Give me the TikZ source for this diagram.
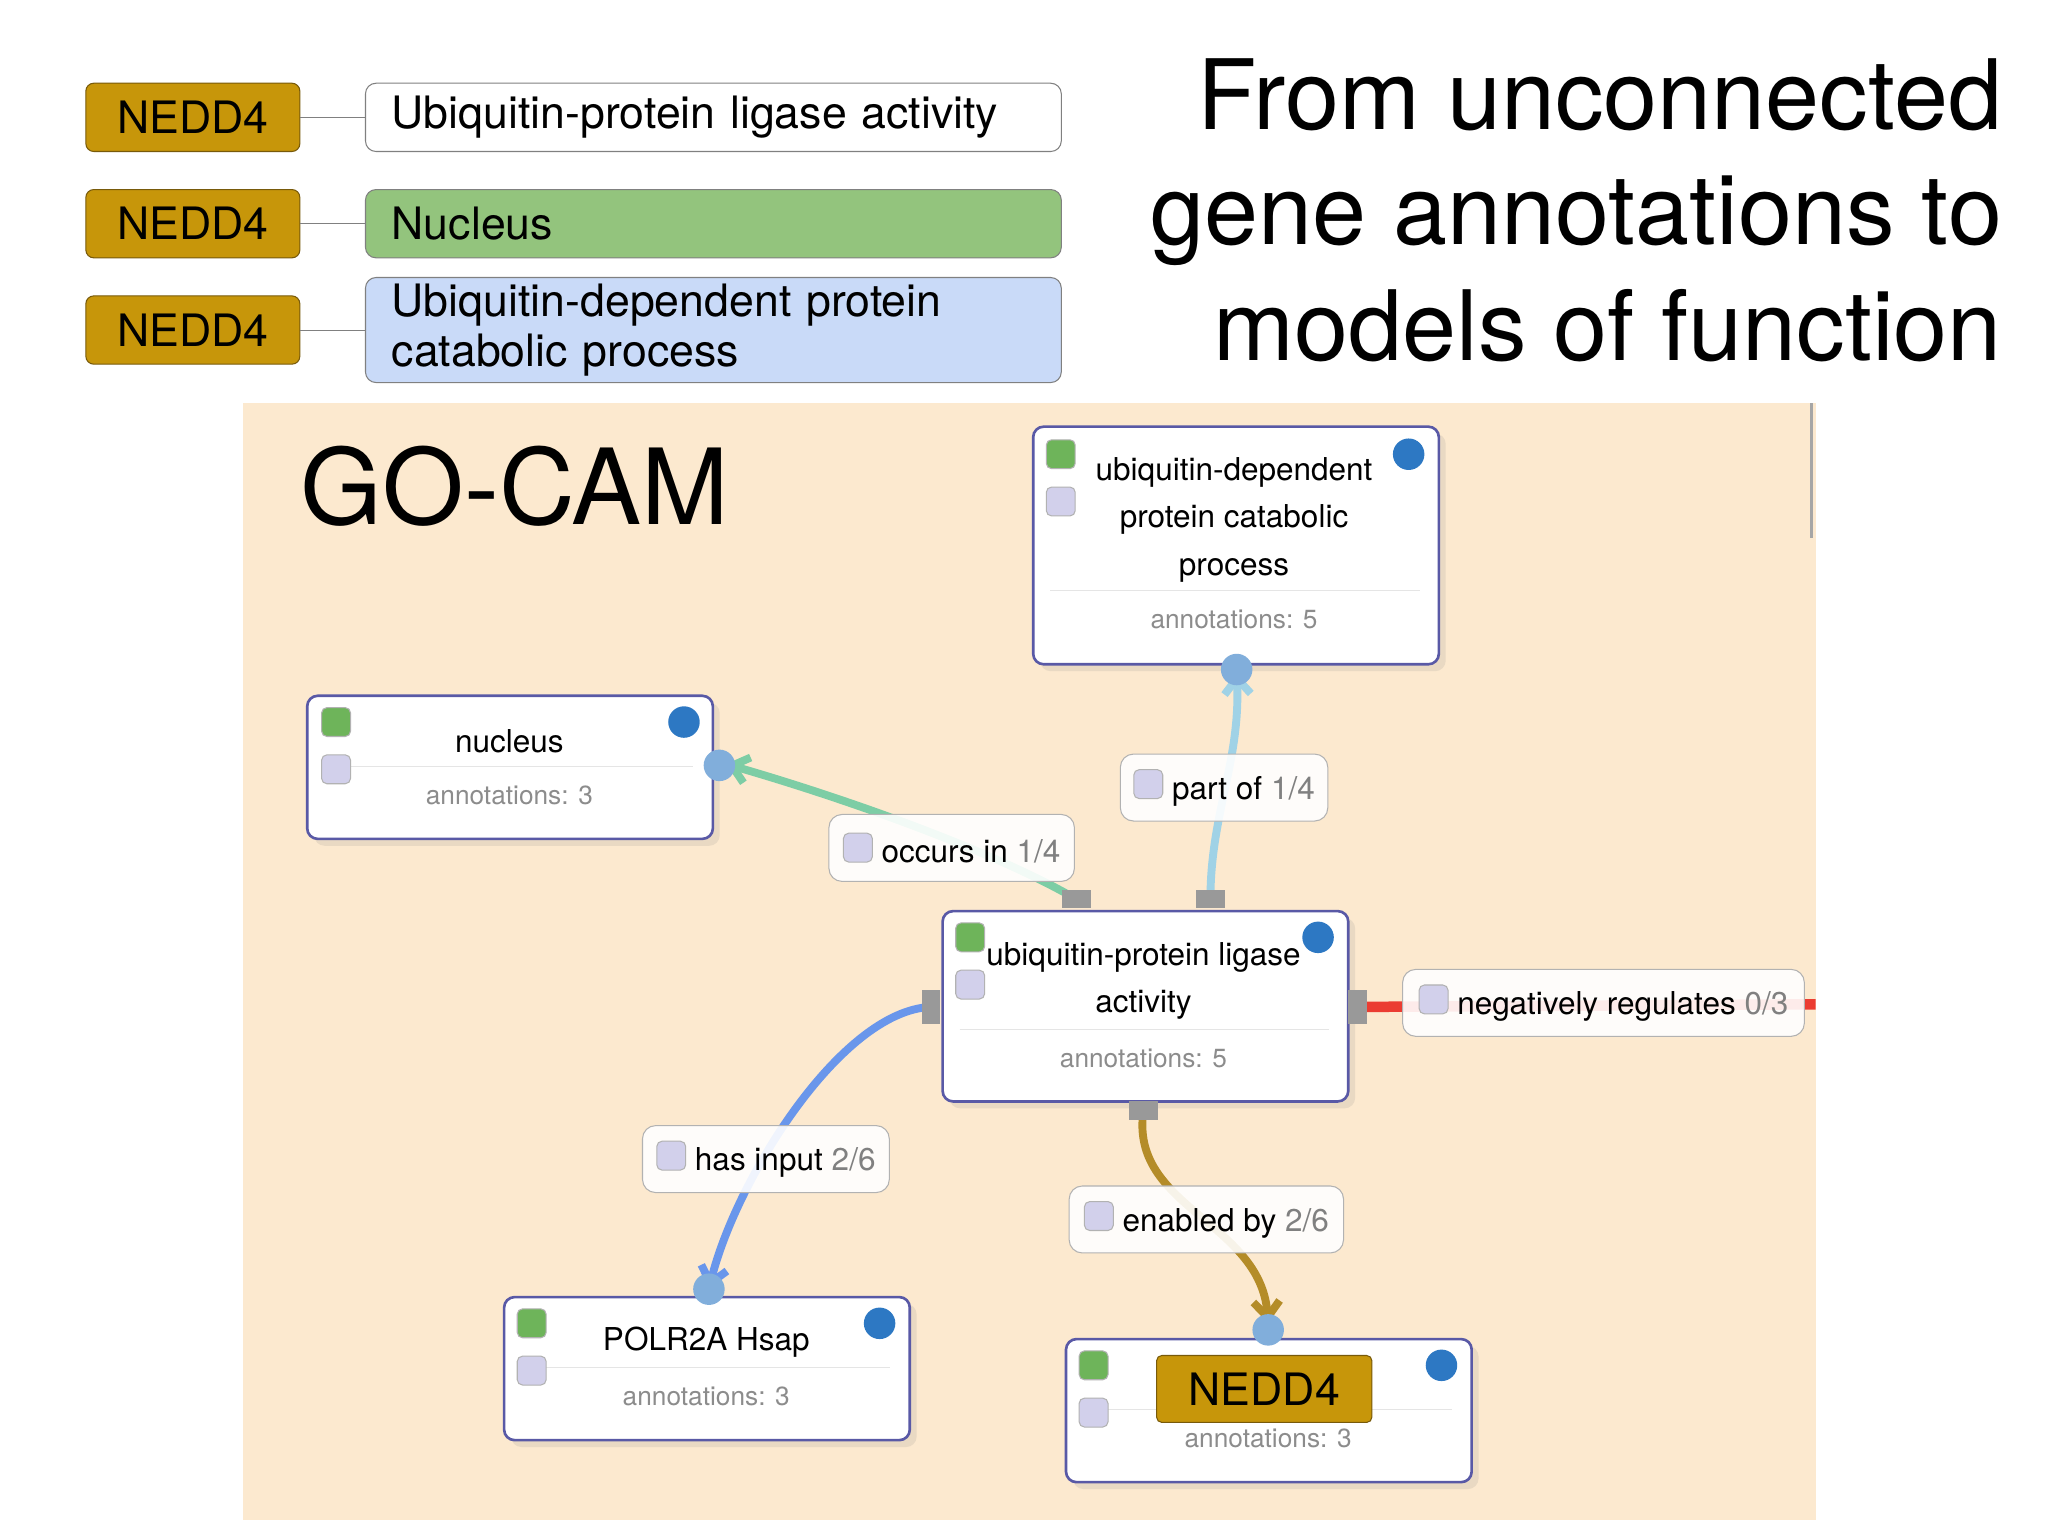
\documentclass[tikz,border=0pt]{standalone}
\usepackage{fontspec}
\setmainfont{TeX Gyre Heros}
\usetikzlibrary{arrows.meta,shadows}
\definecolor{gold}{RGB}{199,150,10}
\definecolor{goldd}{RGB}{120,90,10}
\definecolor{ngreen}{RGB}{147,196,125}
\definecolor{nblue}{RGB}{201,218,248}
\definecolor{peach}{RGB}{252,233,207}
\definecolor{sqg}{RGB}{110,180,90}
\definecolor{sql}{RGB}{210,208,235}
\definecolor{dot}{RGB}{45,120,195}
\definecolor{egreen}{RGB}{125,205,165}
\definecolor{elblue}{RGB}{160,210,230}
\definecolor{eblue}{RGB}{105,150,235}
\definecolor{ebrown}{RGB}{180,140,40}
\definecolor{ered}{RGB}{235,60,50}
\tikzset{
 gene/.style={draw=goldd,fill=gold,rounded corners=3pt,anchor=north west,minimum width=81.5pt,minimum height=26pt,font=\fontsize{17}{20}\selectfont,inner sep=0pt},
 ann/.style={draw=gray,rounded corners=4pt,anchor=north west,minimum width=265pt,align=left,font=\fontsize{17}{19}\selectfont,inner sep=0pt,text width=255pt},
 gonode/.style={draw=gray!70!blue,line width=1pt,fill=white,rounded corners=4pt,anchor=north west,minimum width=154.5pt,drop shadow={opacity=0.15}},
 ntext/.style={font=\fontsize{12}{18}\selectfont,align=center},
 atext/.style={font=\fontsize{10}{12}\selectfont,text=gray!90},
 sqG/.style={draw=gray!60,fill=sqg,rounded corners=2pt,minimum size=11pt,inner sep=0pt},
 sqL/.style={draw=gray!60,fill=sql,rounded corners=2pt,minimum size=11pt,inner sep=0pt},
 dotc/.style={circle,fill=dot,minimum size=12pt,inner sep=0pt},
 elab/.style={draw=gray!60,fill=white,fill opacity=0.9,text opacity=1,rounded corners=5pt,anchor=north west,minimum height=25.5pt,font=\fontsize{12}{14}\selectfont,inner sep=2pt},
 port/.style={fill=gray!80,minimum width=11pt,minimum height=7pt,inner sep=0pt},
 edge/.style={line width=3pt,-{Straight Barb[length=6pt,width=10pt]}},
}
\begin{document}
\begin{tikzpicture}[x=0.5pt,y=-0.5pt]
\useasboundingbox (0,0) rectangle (1560,1170);
% top annotations
\foreach \y/\t in {63/a,144/b,225/c} \node[gene] (g\t) at (65,\y) {NEDD4};
\node[ann,minimum height=26pt] (ta) at (278,63) {\hspace{5pt}Ubiquitin-protein ligase activity};
\node[ann,fill=ngreen,minimum height=26pt] (tb) at (278,144) {\hspace{5pt}Nucleus};
\node[ann,fill=nblue,minimum height=40pt] (tc) at (278,211) {\hspace{5pt}Ubiquitin-dependent protein\\\hspace{5pt}catabolic process};
\draw[gray] (ga.east) -- (ta.west|-ga.east);
\draw[gray] (gb.east) -- (tb.west|-gb.east);
\draw[gray] (gc.east) -- (tc.west|-gc.east);
\node[anchor=east,align=right,font=\fontsize{37}{44}\selectfont] (title) at (1532,160) {From unconnected\\gene annotations to\\models of function};
% panel
\fill[peach] (185,307) rectangle (1383,1158);
\draw[gray!70,line width=1pt] (1380,307) -- (1380,410);
\node[anchor=west,font=\fontsize{40}{44}\selectfont] (gocam) at (222,370) {GO-CAM};
% edges first
\coordinate (pOcc) at (820,685); \coordinate (pPart) at (922,685);
\coordinate (pIn) at (709,767); \coordinate (pEn) at (871,846); \coordinate (pNeg) at (1034,767);
\draw[edge,egreen] (pOcc) .. controls (760,650) and (650,610) .. (553,582);
\draw[edge,elblue] (pPart) .. controls (922,620) and (945,580) .. (942,512);
\draw[edge,eblue] (pIn) .. controls (640,770) and (560,900) .. (540,982);
\draw[edge,ebrown] (pEn) .. controls (860,920) and (960,930) .. (966,1008);
\draw[ered,line width=4pt] (pNeg) -- (1383,765);
% nodes
\node[gonode,minimum height=90.5pt] (ubq) at (786,324) {};
\node[ntext] at (940,396) {ubiquitin-dependent\\protein catabolic\\process};
\draw[gray!20] (800,450) -- (1082,450);
\node[atext] at (940,472) {annotations: 5};
\node[sqG] at (808,346) {}; \node[sqL] at (808,382) {}; \node[dotc] at (1073,346) {};
\node[dotc,fill=dot!60] at (942,510) {};

\node[gonode,minimum height=54.5pt] (nuc) at (233,529) {};
\node[ntext] at (388,565) {nucleus};
\draw[gray!20] (247,584) -- (528,584);
\node[atext] at (388,606) {annotations: 3};
\node[sqG] at (256,550) {}; \node[sqL] at (256,586) {}; \node[dotc] at (521,550) {};
\node[dotc,fill=dot!60] at (548,583) {};

\node[gonode,minimum height=72.5pt] (lig) at (717,693) {};
\node[ntext] at (871,747) {ubiquitin-protein ligase\\activity};
\draw[gray!20] (731,784) -- (1012,784);
\node[atext] at (871,806) {annotations: 5};
\node[sqG] at (739,714) {}; \node[sqL] at (739,750) {}; \node[dotc] at (1004,714) {};

\node[gonode,minimum height=54.5pt] (pol) at (383,987) {};
\node[ntext] at (538,1022) {POLR2A Hsap};
\draw[gray!20] (397,1042) -- (678,1042);
\node[atext] at (538,1064) {annotations: 3};
\node[sqG] at (405,1008) {}; \node[sqL] at (405,1044) {}; \node[dotc] at (670,1008) {};
\node[dotc,fill=dot!60] at (540,982) {};

\node[gonode,minimum height=54.5pt] (ned) at (811,1019) {};
\draw[gray!20] (825,1074) -- (1106,1074);
\node[atext] at (966,1096) {annotations: 3};
\node[sqG] at (833,1040) {}; \node[sqL] at (833,1076) {}; \node[dotc] at (1098,1040) {};
\node[dotc,fill=dot!60] at (966,1013) {};
\node[draw=goldd,fill=gold,rounded corners=2pt,minimum width=82pt,minimum height=25.5pt,font=\fontsize{17}{20}\selectfont,inner sep=0pt] (nedl) at (963,1058) {NEDD4};
% ports
\node[port] at (pOcc) {}; \node[port] at (pPart) {};
\node[port,minimum width=7pt,minimum height=13pt] at (pIn) {};
\node[port] at (pEn) {};
\node[port,minimum width=7pt,minimum height=13pt] at (pNeg) {};
% edge labels
\newcommand{\elabel}[5]{\node[elab,minimum width=#3] (#1) at (#2) {\tikz\node[sqL]{};\ #4 {\color{gray}#5}};}
\elabel{lOcc}{631,620}{93.5pt}{occurs in}{1/4}
\elabel{lPart}{853,574}{79pt}{part of}{1/4}
\elabel{lIn}{489,857}{94pt}{has input}{2/6}
\elabel{lEn}{814,903}{104.5pt}{enabled by}{2/6}
\elabel{lNeg}{1068,738}{153pt}{negatively regulates}{0/3}
\end{tikzpicture}
\end{document}
